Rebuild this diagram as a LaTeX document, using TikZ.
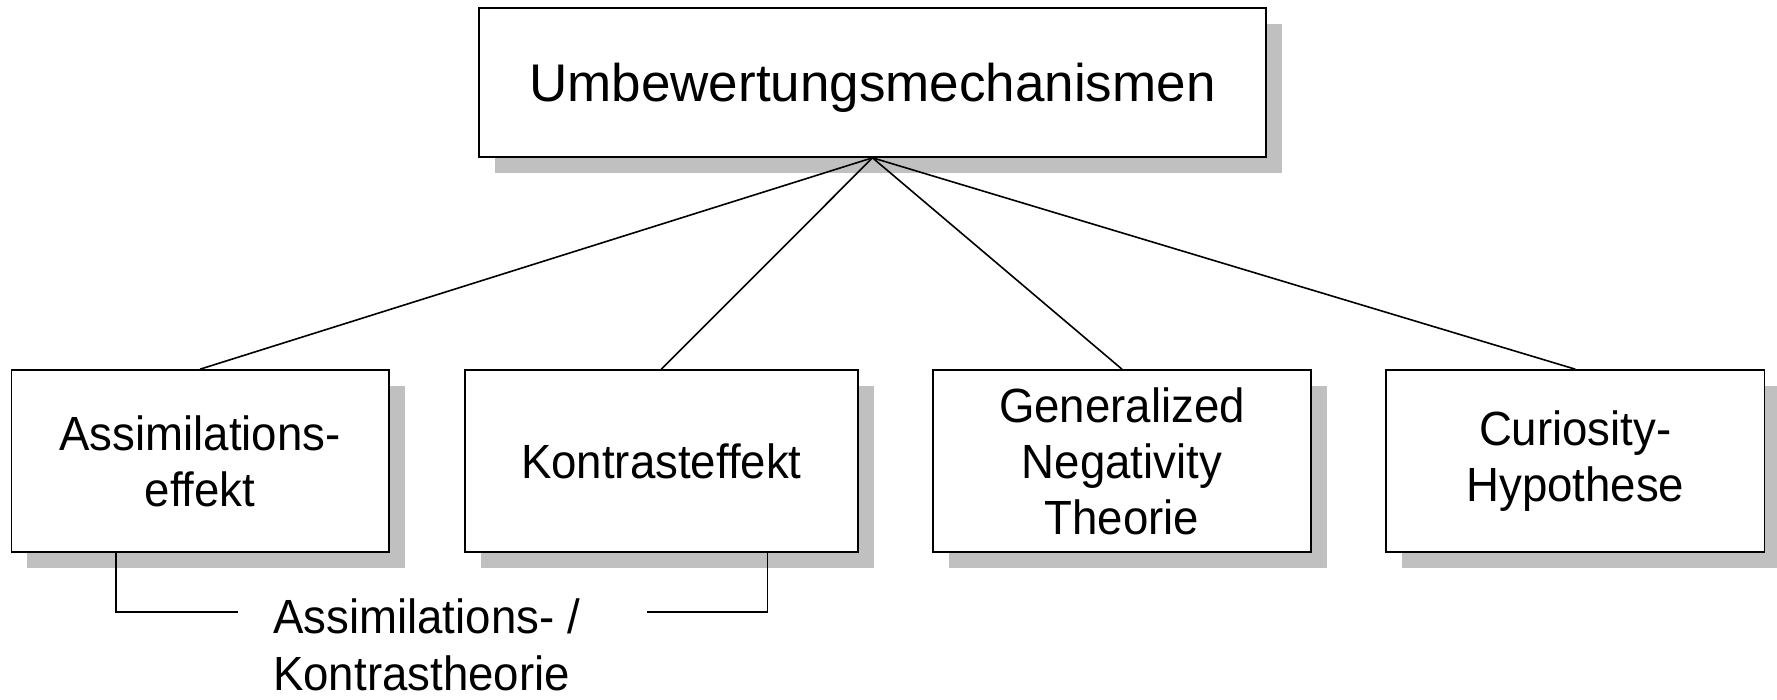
\documentclass[tikz,border=0pt]{standalone}
\usepackage{fontspec}
\setmainfont{Liberation Sans}
\newfontfamily\boxsans[FakeStretch=0.95]{Liberation Sans}
\usetikzlibrary{shadows,calc}
\definecolor{shadowgray}{HTML}{C0C0C0}
\tikzset{
  shadowed/.style={draw=black, line width=1.6pt, fill=white, inner sep=0pt,
    align=center,
    drop shadow={shadow xshift=16pt, shadow yshift=-16pt, fill=shadowgray, opacity=1}},
  topbox/.style={shadowed, minimum width=787pt, minimum height=149pt,
    text depth=0pt, font=\fontsize{53}{60}\selectfont},
  leafbox/.style={shadowed, minimum height=182pt,
    font=\boxsans\fontsize{48}{56}\selectfont},
  link/.style={draw=black, line width=1.6pt},
  caption/.style={inner sep=0pt, align=left, font=\boxsans\fontsize{48}{57}\selectfont}
}
\begin{document}
\begin{tikzpicture}[x=1pt, y=-1pt]
  \useasboundingbox[fill=white] (0,0) rectangle (1777,699);

  % root and the four mechanisms
  \node[topbox] (root) at (872.5,82.5) {Umbewertungsmechanismen};
  \node[leafbox, minimum width=377.4pt] (assim) at (200,461) {Assimilations-\\effekt};
  \node[leafbox, minimum width=393.3pt] (kontr) at (661.4,461) {Kontrasteffekt};
  \node[leafbox, minimum width=378pt] (gnt) at (1122,461) {Generalized\\Negativity\\Theorie};
  \node[leafbox, minimum width=378.6pt] (curio) at (1575.3,461) {Curiosity-\\Hypothese};

  % branches from the root
  \draw[link] (root.south) -- (assim.north);
  \draw[link] (root.south) -- (kontr.north);
  \draw[link] (root.south) -- (gnt.north);
  \draw[link] (root.south) -- (curio.north);

  % bracket joining the two effects under a common theory
  \node[caption, anchor=base west] (theory) at (273,690) {Assimilations- /\\Kontrastheorie};
  \coordinate (lfoot) at ($(assim.south west)+(105.4,0)$);
  \coordinate (rfoot) at ($(kontr.south east)+(-91.3,0)$);
  \coordinate (lend) at (238.3,611.7);
  \coordinate (rend) at (646.7,611.7);
  \draw[link] (lfoot) |- (lend);
  \draw[link] (rfoot) |- (rend);
\end{tikzpicture}
\end{document}
